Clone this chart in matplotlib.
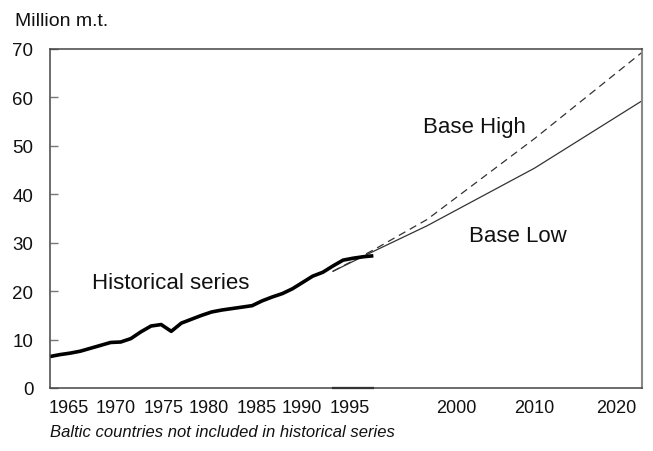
import numpy as np
import matplotlib
matplotlib.use("Agg")
import matplotlib.pyplot as plt
from matplotlib.transforms import ScaledTranslation

plt.rcParams['font.family'] = ['Liberation Sans', 'DejaVu Sans']

# ---------------- data ----------------
hist_years = list(range(1963, 1996))
hist_values = [6.5, 6.9, 7.2, 7.6, 8.2, 8.8, 9.4, 9.5, 10.2, 11.6, 12.8, 13.1, 11.7,
               13.4, 14.2, 15.0, 15.7, 16.1, 16.4, 16.7, 17.0, 18.0, 18.8, 19.5,
               20.5, 21.8, 23.1, 23.9, 25.2, 26.4, 26.8, 27.1, 27.3]

proj_years = [1991, 1995, 2000, 2010, 2020]
base_high = [24.1, 28.5, 34.8, 51.5, 69.3]
base_low = [24.1, 28.2, 33.5, 45.4, 59.3]

baseline_years = [1991, 1995]
baseline_values = [0, 0]

xtick_years = [1965, 1970, 1975, 1980, 1985, 1990, 1995, 2000, 2010, 2020]
xtick_labels = ['1965', '1970', '1975', '1980', '1985', '1990', '1995', '2000', '2010', '2020']
yticks = [0, 10, 20, 30, 40, 50, 60, 70]

# ---------------- figure ----------------
W, H = 653, 452
fig = plt.figure(figsize=(W / 100, H / 100), dpi=100)
ax = fig.add_axes([50 / W, 1 - 389 / H, (642 - 50) / W, (389 - 50) / H])

# piecewise-linear year axis (historical part and projection part)
def fwd(x):
    x = np.asarray(x, dtype=float)
    return np.where(x < 1995, (x - 1963) * 10.1, 323.2 + (x - 1995) * 10.74)

def inv(y):
    y = np.asarray(y, dtype=float)
    return np.where(y < 323.2, 1963 + y / 10.1, 1995 + (y - 323.2) / 10.74)

ax.set_xscale('function', functions=(fwd, inv))

ax.plot(proj_years, base_high, color='#333333', lw=0.9, dashes=(6, 4))
ax.plot(proj_years, base_low, color='#333333', lw=0.9)
ax.plot(hist_years, hist_values, color='black', lw=2.6, solid_joinstyle='round',
        solid_capstyle='butt')
ax.plot(baseline_years, baseline_values, color='black', lw=1.6, clip_on=False)

ax.set_xlim(1963, 2020)
ax.set_ylim(0, 70)

ax.set_yticks(yticks)
ax.set_yticklabels([str(v) for v in yticks])
ax.set_xticks(xtick_years)
ax.set_xticklabels(xtick_labels)
ax.xaxis.set_minor_locator(matplotlib.ticker.NullLocator())

ax.tick_params(axis='y', direction='in', length=5.8, width=1, color='#777777',
               pad=12, labelsize=13.5, labelcolor='#111111')
ax.tick_params(axis='x', length=0, pad=8, labelsize=13, labelcolor='#111111')

# shift x tick labels to their printed positions (pixels)
label_shift_px = [-1, -5, -8, -13, -16, -21, -24, 29, 0, -26]
for lab, dx in zip(ax.get_xticklabels(), label_shift_px):
    lab.set_transform(lab.get_transform() + ScaledTranslation(dx / 100, 0, fig.dpi_scale_trans))

for s in ['left', 'bottom', 'top', 'right']:
    ax.spines[s].set_color('#444444')
    ax.spines[s].set_linewidth(1.1)
ax.spines['right'].set_color('#888888')
ax.spines['right'].set_linewidth(1.5)

def ftext(x, y, s, **kw):
    fig.text(x / W, 1 - y / H, s, **kw)

ftext(15, 21, 'Million m.t.', ha='left', va='center', fontsize=14, color='#111111')
ftext(171, 284, 'Historical series', ha='center', va='center', fontsize=16, color='#111111')
ftext(474, 128, 'Base High', ha='center', va='center', fontsize=16, color='#111111')
ftext(518, 237, 'Base Low', ha='center', va='center', fontsize=16, color='#111111')
ftext(50, 433, 'Baltic countries not included in historical series', ha='left',
      va='center', fontsize=12, style='italic', color='#111111')

fig.savefig('out.png', dpi=100)
